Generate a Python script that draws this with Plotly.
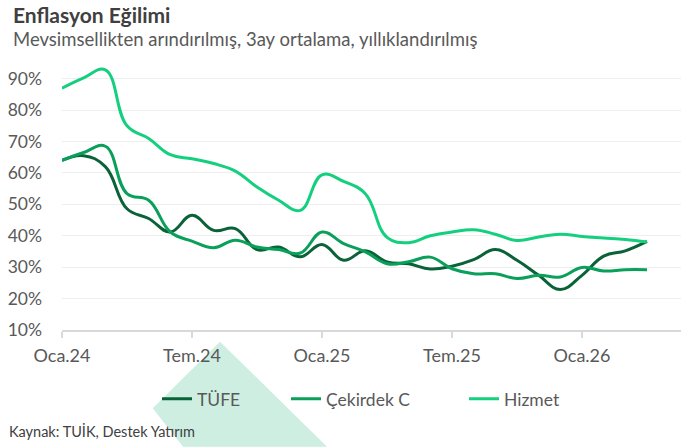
import plotly.graph_objects as go

# ---------------- data ----------------
month_names = ["Oca", "Şub", "Mar", "Nis", "May", "Haz", "Tem", "Ağu", "Eyl", "Eki", "Kas", "Ara"]
months = [f"{m}.{y}" for y in ("24", "25") for m in month_names] + ["Oca.26", "Şub.26", "Mar.26", "Nis.26"]

tufe = [64.0, 65.5, 62.0, 48.6, 45.5, 41.2, 46.5, 41.7, 42.3, 35.6, 36.4, 33.3, 37.2, 32.2,
        35.2, 31.7, 31.1, 29.4, 30.3, 32.4, 35.6, 32.2, 27.4, 22.9, 27.4, 33.5, 35.2, 38.2]
cekirdek = [64.0, 66.5, 68.5, 53.4, 51.3, 41.2, 38.3, 36.2, 38.6, 36.4, 35.6, 34.5, 41.2, 37.5,
            34.9, 31.1, 31.7, 33.2, 29.5, 27.9, 27.9, 26.4, 27.4, 26.9, 29.9, 28.8, 29.2, 29.2]
hizmet = [87.0, 90.3, 92.8, 75.0, 71.0, 65.8, 64.5, 63.0, 60.6, 55.5, 51.3, 48.1, 59.4, 57.3,
          53.4, 39.5, 37.8, 40.0, 41.2, 41.9, 40.5, 38.5, 39.6, 40.5, 39.8, 39.3, 38.8, 38.0]

series_names = ["TÜFE", "Çekirdek C", "Hizmet"]
x_tick_labels = ["Oca.24", "Tem.24", "Oca.25", "Tem.25", "Oca.26"]
y_tick_values = [10, 20, 30, 40, 50, 60, 70, 80, 90]
y_tick_text = [f"{v}%" for v in y_tick_values]

title = "Enflasyon Eğilimi"
subtitle = "Mevsimsellikten arındırılmış, 3ay ortalama, yıllıklandırılmış"
source = "Kaynak: TUİK, Destek Yatırım"

# ---------------- layout helpers ----------------
W, H = 681, 447
L, R, T, B = 62, 0, 62.5, 117
PW, PH = W - L - R, H - T - B


def px_x(px):
    return (px - L) / PW


def px_y(py):
    return (H - B - py) / PH


FONT = "Lato"
colors = ["#0a6238", "#0aa05b", "#14cf7e"]
legend_keys = ["legend", "legend2", "legend3"]
legend_text_x = [157, 286, 464]

fig = go.Figure()
for name, vals, col, lk in zip(series_names, [tufe, cekirdek, hizmet], colors, legend_keys):
    fig.add_trace(go.Scatter(
        x=months, y=vals, name=name, mode="lines",
        line=dict(color=col, width=3, shape="spline", smoothing=1.2),
        legend=lk, hoverinfo="skip",
    ))

legend_common = dict(
    orientation="h", yanchor="middle", xanchor="left",
    bgcolor="rgba(0,0,0,0)", borderwidth=0,
    font=dict(family=FONT, size=17.5, color="#595959"),
)
layout_legends = {}
for lk, lx in zip(legend_keys, legend_text_x):
    layout_legends[lk] = dict(legend_common, x=px_x(lx), y=px_y(399))

fig.update_layout(
    width=W, height=H,
    margin=dict(l=L, r=R, t=T, b=B, pad=0),
    paper_bgcolor="white", plot_bgcolor="rgba(0,0,0,0)",
    font=dict(family=FONT, color="#595959"),
    showlegend=True,
    xaxis=dict(
        type="category", range=[0, 28.57],
        tickmode="array", tickvals=x_tick_labels, ticktext=x_tick_labels,
        showline=True, linecolor="#d9d9d9", linewidth=1.5,
        ticks="outside", ticklen=6, tickcolor="#d9d9d9", tickwidth=1.5,
        showgrid=False, zeroline=False,
        tickfont=dict(family=FONT, size=18, color="#595959"),
        ticklabelstandoff=3,
    ),
    yaxis=dict(
        range=[10, 95], tickmode="array", tickvals=y_tick_values, ticktext=y_tick_text,
        showgrid=True, gridcolor="#eeeeee", gridwidth=1,
        zeroline=False, showline=False, ticks="",
        tickfont=dict(family=FONT, size=17.5, color="#595959"),
        ticklabelstandoff=19,
    ),
    **layout_legends,
)

# decorative watermark shape
wm = [(220, 341.7), (152.7, 408.3), (183, 447), (327, 447)]
path = "M " + " L ".join(f"{px_x(a)},{px_y(b)}" for a, b in wm) + " Z"
fig.add_shape(type="path", path=path, xref="paper", yref="paper",
              fillcolor="#cdeee0", line=dict(width=0), layer="below")

fig.add_annotation(text=f"<b>{title}</b>", x=px_x(11), y=px_y(14), xref="paper", yref="paper",
                   xanchor="left", yanchor="middle", showarrow=False,
                   font=dict(family=FONT, size=21, color="#404040"))
fig.add_annotation(text=subtitle, x=px_x(11), y=px_y(38), xref="paper", yref="paper",
                   xanchor="left", yanchor="middle", showarrow=False,
                   font=dict(family=FONT, size=18.5, color="#595959"))
fig.add_annotation(text=source, x=px_x(7), y=px_y(432), xref="paper", yref="paper",
                   xanchor="left", yanchor="middle", showarrow=False,
                   font=dict(family=FONT, size=14.5, color="#404040"))

fig.write_html("out.html", config={"displayModeBar": False},
               post_script="document.body.style.margin='0';document.body.style.overflow='hidden';")
